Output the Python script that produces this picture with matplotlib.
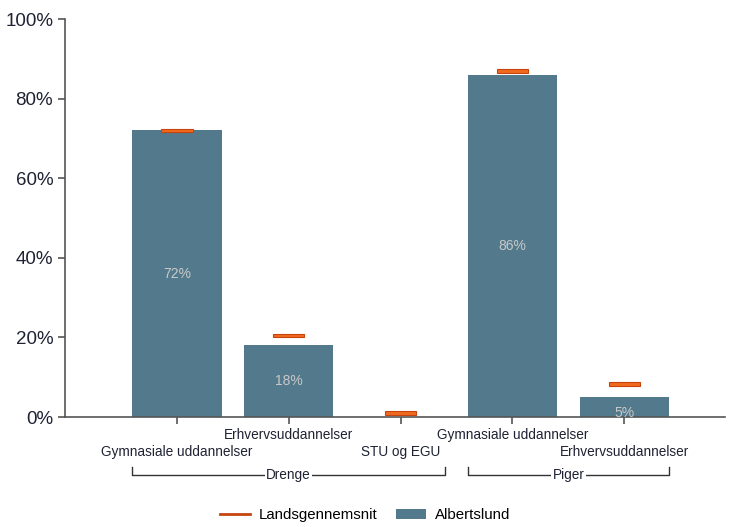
import matplotlib
matplotlib.use("Agg")
import matplotlib.pyplot as plt
from matplotlib.lines import Line2D
from matplotlib.patches import Patch

plt.rcParams['font.family'] = ['Liberation Sans', 'DejaVu Sans']

categories = ["Gymnasiale uddannelser", "Erhvervsuddannelser", "STU og EGU",
              "Gymnasiale uddannelser", "Erhvervsuddannelser"]
groups = ["Drenge", "Piger"]
group_members = [[0, 1, 2], [3, 4]]
albertslund = [72, 18, 0, 86, 5]
landsgennemsnit = [72, 20.5, 1, 87, 8.3]
value_labels = ["72%", "18%", "", "86%", "5%"]
yticks = [0, 20, 40, 60, 80, 100]
ytick_labels = ["0%", "20%", "40%", "60%", "80%", "100%"]

bar_color = "#537a8c"
orange = "#f06a1e"
orange_edge = "#c8440f"
text_color = "#1f2233"

fig = plt.figure(figsize=(7.31, 5.27), dpi=100)
ax = fig.add_axes([65/731, (527-417)/527, (725-65)/731, (417-19)/527])

x = list(range(len(categories)))
bw = 0.8
ax.bar(x, albertslund, width=bw, color=bar_color, zorder=2)
ax.bar(x, [0.9]*len(x), bottom=[v - 0.45 for v in landsgennemsnit], width=0.28,
       color=orange, edgecolor=orange_edge, linewidth=0.8, zorder=3)

for xi, v, lab in zip(x, albertslund, value_labels):
    if lab:
        ypos = v / 2 if v > 10 else 1.0
        ax.text(xi, ypos, lab, ha='center', va='center', color='#c9c9c9',
                fontsize=10, zorder=4)

ax.set_xlim(-1.0, 4.9)
ax.set_ylim(0, 100)
ax.set_yticks(yticks)
ax.set_yticklabels(ytick_labels, fontsize=13.5, color=text_color)
ax.set_xticks(x)
ax.set_xticklabels([])
for s in ['top', 'right']:
    ax.spines[s].set_visible(False)
for s in ['left', 'bottom']:
    ax.spines[s].set_color('#555555')
    ax.spines[s].set_linewidth(1.2)
ax.tick_params(axis='both', direction='out', length=5, color='#555555', width=1.2)

# staggered category labels
for xi, lab in zip(x, categories):
    yoff = -0.045 if xi % 2 == 1 else -0.088
    ax.text(xi, yoff, lab, transform=ax.get_xaxis_transform(), ha='center',
            va='center', fontsize=9.8, color=text_color, clip_on=False)

# group brackets
for g, members in zip(groups, group_members):
    x0 = members[0] - bw/2
    x1 = members[-1] + bw/2
    yb = -0.146
    tr = ax.get_xaxis_transform()
    xc = (x0 + x1) / 2
    ax.plot([x0, x0, x1, x1], [yb + 0.02, yb, yb, yb + 0.02], transform=tr,
            color='#333333', lw=1.0, clip_on=False)
    ax.text(xc, yb, g, transform=tr, ha='center', va='center', fontsize=9.8,
            color=text_color, bbox=dict(facecolor='white', edgecolor='none', pad=1),
            clip_on=False)

handles = [Line2D([0], [0], color=orange_edge, lw=2),
           Patch(facecolor=bar_color)]
fig.legend(handles, ["Landsgennemsnit", "Albertslund"], loc='center',
           bbox_to_anchor=(365/731, 1 - 515/527), ncol=2, frameon=False,
           fontsize=10.8, handlelength=2.0, handletextpad=0.6, columnspacing=1.2)

fig.savefig("out.png", dpi=100)
